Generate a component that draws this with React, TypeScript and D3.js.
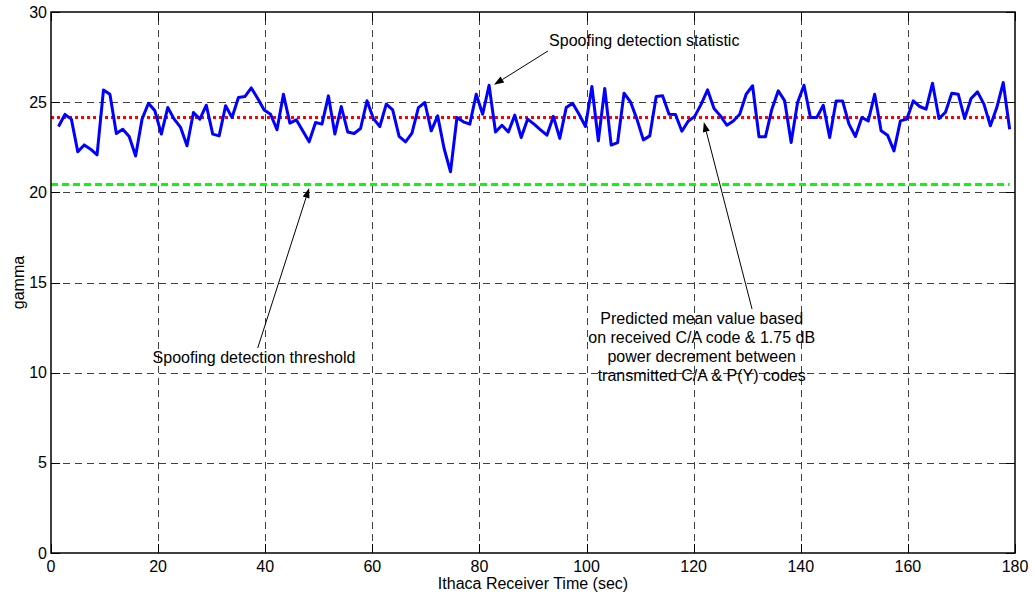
import * as d3 from 'd3';

// gamma samples, one every samplePeriod seconds
const gammaValues = [
  23.65, 24.32, 24.06, 22.25, 22.63, 22.39, 22.08, 25.68, 25.44, 23.26, 23.5, 23.1,
  22.02, 24.06, 24.94, 24.52, 23.23, 24.7, 24.06, 23.6, 22.58, 24.43, 24.06, 24.83,
  23.23, 23.13, 24.8, 24.15, 25.26, 25.31, 25.79, 25.2, 24.57, 24.33, 23.47, 25.44,
  23.84, 24.02, 23.41, 22.8, 23.87, 23.78, 25.35, 23.23, 24.76, 23.35, 23.26, 23.54,
  25.08, 24.09, 23.65, 24.89, 24.57, 23.1, 22.8, 23.28, 24.7, 24.98, 23.41, 24.24,
  22.43, 21.14, 24.15, 23.91, 23.78, 25.44, 24.33, 25.94, 23.35, 23.72, 23.35, 24.28,
  23.04, 24.06, 23.78, 23.47, 23.17, 24.21, 22.99, 24.7, 24.94, 24.33, 23.65, 25.87,
  22.86, 25.76, 22.62, 22.76, 25.5, 25.02, 24.06, 22.91, 23.13, 25.31, 25.35, 24.33,
  24.32, 23.39, 23.96, 24.21, 24.89, 25.68, 24.65, 24.24, 23.72, 23.96, 24.33, 25.44,
  25.91, 23.08, 23.08, 24.61, 25.63, 25.07, 22.76, 24.98, 25.94, 24.15, 24.15, 24.83,
  23.04, 25.07, 25.07, 23.78, 23.1, 24.15, 23.96, 25.44, 23.41, 23.17, 22.3, 23.96,
  24.06, 25.07, 24.76, 24.61, 26.05, 24.09, 24.43, 25.5, 25.44, 24.09, 25.2, 25.57,
  24.89, 23.69, 24.7, 26.09, 23.5,
];
const sampleStart = 1.4;
const samplePeriod = 1.2;

const predictedMean = 24.2;
const detectionThreshold = 20.45;
const refSpan = [0, 179];

const xTicks = [0, 20, 40, 60, 80, 100, 120, 140, 160, 180];
const yTicks = [0, 5, 10, 15, 20, 25, 30];

const predictedLines = [
  'Predicted mean value based',
  'on received C/A code & 1.75 dB',
  'power decrement between',
  'transmitted C/A & P(Y) codes',
];

const W = 1033;
const H = 597;
const margin = { top: 12, right: 18, bottom: 44, left: 51 };
const FONT = '"Liberation Sans", Arial, Helvetica, sans-serif';
const tickFs = 16;
const labelFs = 16;
const noteFs = 16;

function Arrow({ x1, y1, x2, y2 }: { x1: number; y1: number; x2: number; y2: number }) {
  // line from (x1,y1) to tip (x2,y2) with a filled head
  const ang = Math.atan2(y2 - y1, x2 - x1);
  const len = 10;
  const half = 3.5;
  const bx = x2 - len * Math.cos(ang);
  const by = y2 - len * Math.sin(ang);
  const px = -Math.sin(ang) * half;
  const py = Math.cos(ang) * half;
  return (
    <g>
      <line x1={x1} y1={y1} x2={bx} y2={by} stroke="#000" strokeWidth={1} />
      <polygon points={`${x2},${y2} ${bx + px},${by + py} ${bx - px},${by - py}`} fill="#000" />
    </g>
  );
}

export default function App() {
  const x = d3.scaleLinear().domain([0, 180]).range([margin.left, W - margin.right]);
  const y = d3.scaleLinear().domain([0, 30]).range([H - margin.bottom, margin.top]);
  const x0 = x(0), x1 = x(180), y0 = y(0), y1 = y(30);
  const snap = (v: number) => Math.round(v) + 0.5;

  const pts: [number, number][] = gammaValues.map((v, i) => [sampleStart + i * samplePeriod, v]);
  const line = d3.line<[number, number]>().x(d => x(d[0])).y(d => y(d[1]));

  const tick = 9;

  return (
    <div style={{ position: 'absolute', left: 0, top: 0 }}>
      <svg width={W} height={H} style={{ display: 'block', background: '#fff' }} fontFamily={FONT}>
        <rect x={0} y={0} width={W} height={H} fill="#fff" />
        {/* grid */}
        <g stroke="#000" strokeWidth={1} strokeDasharray="7,5" opacity={0.75}>
          {xTicks.slice(1, -1).map(t => (
            <line key={'gx' + t} x1={snap(x(t))} x2={snap(x(t))} y1={y0} y2={y1} />
          ))}
          {yTicks.slice(1, -1).map(t => (
            <line key={'gy' + t} y1={snap(y(t))} y2={snap(y(t))} x1={x0} x2={x1} />
          ))}
        </g>
        {/* ticks on all four sides */}
        <g stroke="#000" strokeWidth={1}>
          {xTicks.map(t => {
            const px = snap(x(t));
            return (
              <g key={'tx' + t}>
                <line x1={px} x2={px} y1={y0} y2={y0 - tick} />
                <line x1={px} x2={px} y1={y1} y2={y1 + tick} />
              </g>
            );
          })}
          {yTicks.map(t => {
            const py = snap(y(t));
            return (
              <g key={'ty' + t}>
                <line y1={py} y2={py} x1={x0} x2={x0 + tick} />
                <line y1={py} y2={py} x1={x1} x2={x1 - tick} />
              </g>
            );
          })}
        </g>
        {/* reference levels */}
        <line x1={x(refSpan[0])} x2={x(refSpan[1])} y1={snap(y(detectionThreshold))} y2={snap(y(detectionThreshold))}
          stroke="#00ff00" strokeWidth={3} strokeDasharray="7,4" />
        <line x1={x(refSpan[0])} x2={x(refSpan[1])} y1={snap(y(predictedMean))} y2={snap(y(predictedMean))}
          stroke="#ff0000" strokeWidth={3} strokeDasharray="3,3" />
        {/* statistic */}
        <path d={line(pts) || ''} fill="none" stroke="#0000ff" strokeWidth={3} strokeLinejoin="round" />
        {/* axes box */}
        <rect x={x0} y={y1} width={x1 - x0} height={y0 - y1} fill="none" stroke="#000" strokeWidth={1.5} />
        {/* tick labels */}
        <g fontSize={tickFs} fill="#000">
          {xTicks.map(t => (
            <text key={'lx' + t} x={x(t)} y={y0 + 19} textAnchor="middle">{t}</text>
          ))}
          {yTicks.map(t => (
            <text key={'ly' + t} x={x0 - 4} y={y(t)} dy="0.35em" textAnchor="end">{t}</text>
          ))}
        </g>
        <text x={(x0 + x1) / 2} y={y0 + 36} textAnchor="middle" fontSize={labelFs}>Ithaca Receiver Time (sec)</text>
        <text transform={`translate(${18},${(y0 + y1) / 2}) rotate(-90)`} textAnchor="middle" dy="0.35em" fontSize={labelFs}>gamma</text>

        {/* annotations */}
        <Arrow x1={x(92.8)} y1={y(27.84)} x2={x(82.7)} y2={y(25.96)} />
        <text x={x(93)} y={y(28.4)} dy="0.35em" fontSize={noteFs}>Spoofing detection statistic</text>

        <Arrow x1={x(38.6)} y1={y(11.37)} x2={x(48.2)} y2={y(20.24)} />
        <text x={x(37.9)} y={y(10.87)} dy="0.35em" textAnchor="middle" fontSize={noteFs}>Spoofing detection threshold</text>

        <Arrow x1={x(130.9)} y1={y(13.53)} x2={x(121.9)} y2={y(23.9)} />
        {predictedLines.map((s, i) => (
          <text key={s} x={x(121.5)} y={y(13.03) + i * 19} dy="0.35em" textAnchor="middle" fontSize={noteFs}>{s}</text>
        ))}
      </svg>
    </div>
  );
}
